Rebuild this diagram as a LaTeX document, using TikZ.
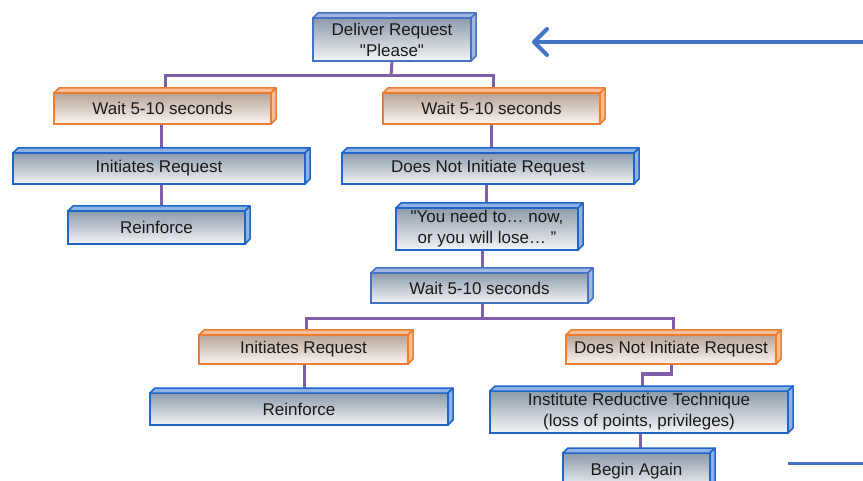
\documentclass[tikz,border=0pt]{standalone}
\usepackage{fontspec}
\setmainfont{Liberation Sans}
\usetikzlibrary{arrows.meta}
\pgfdeclarelayer{back}
\pgfdeclarelayer{bg}
\pgfsetlayers{back,bg,main}
\definecolor{lblue}{HTML}{4472C4}
\definecolor{dblue}{HTML}{1F66C8}
\definecolor{orng}{HTML}{ED7D31}
\definecolor{purp}{HTML}{7E5FA8}
\definecolor{btop}{HTML}{8C9BAA}
\definecolor{bbot}{HTML}{F4F5F7}
\definecolor{otop}{HTML}{B8A397}
\definecolor{obot}{HTML}{FBF6F2}
\definecolor{txt}{HTML}{1A1A1A}
\tikzset{
  boxbase/.style={draw=#1, line width=2.8pt, inner sep=0pt, outer sep=0pt, align=center,
    text=txt, font=\fontsize{17}{21}\selectfont},
  bluebox/.style={boxbase=#1, top color=btop, bottom color=bbot},
  orangebox/.style={boxbase=#1, top color=otop, bottom color=obot},
  bevel/.style={fill=#1!50!white, draw=#1, line width=1.5pt, line join=round},
  conn/.style={draw=purp, line width=3pt},
}
% name, x1, y1, x2, y2, style, colour, text
\newcommand\mkbox[8]{%
  \node[#6=#7, minimum width={(#4-#2)*1pt}, minimum height={(#5-#3)*1pt}]
    (#1) at ({(#2+#4)/2},{(#3+#5)/2}) {#8};
  \path[bevel=#7] (#1.north west) -- ++(5pt,5pt) -- ([shift={(5pt,5pt)}]#1.north east)
    -- (#1.north east) -- cycle;
  \path[bevel=#7] (#1.north east) -- ++(5pt,5pt) -- ([shift={(5pt,5pt)}]#1.south east)
    -- (#1.south east) -- cycle;
}
\begin{document}
\begin{tikzpicture}[x=1pt,y=-1pt]
\useasboundingbox (0,0) rectangle (863,481);
\clip (0,0) rectangle (863,481);
\begin{pgfonlayer}{back}
  \fill[white] (0,0) rectangle (863,481);
\end{pgfonlayer}

\mkbox{deliver}{313}{18}{471}{61}{bluebox}{lblue}{Deliver Request\\\textquotedbl Please\textquotedbl}
\mkbox{waitL}{54}{93}{271}{124}{orangebox}{orng}{Wait 5-10 seconds}
\mkbox{waitR}{383}{93}{600}{124}{orangebox}{orng}{Wait 5-10 seconds}
\mkbox{initL}{13}{153}{305}{184}{bluebox}{dblue}{Initiates Request}
\mkbox{notR}{342}{153}{634}{184}{bluebox}{dblue}{Does Not Initiate Request}
\mkbox{reinfL}{68}{211}{245}{244}{bluebox}{dblue}{Reinforce}
\mkbox{youneed}{396}{208}{578}{250}{bluebox}{dblue}{\textquotedbl You need to… now,\\or you will lose… ”}
\mkbox{waitB}{371}{273}{588}{303}{bluebox}{lblue}{Wait 5-10 seconds}
\mkbox{initO}{199}{335}{408}{364}{orangebox}{orng}{Initiates Request}
\mkbox{notO}{566}{335}{776}{364}{orangebox}{orng}{Does Not Initiate Request}
\mkbox{reinfB}{150}{393}{448}{425}{bluebox}{dblue}{Reinforce}
\mkbox{inst}{490}{391}{788}{433}{bluebox}{dblue}{Institute Reductive Technique\\(loss of points, privileges)}
\mkbox{begin}{563}{453}{710}{489}{bluebox}{dblue}{Begin Again}

\begin{pgfonlayer}{bg}
  \coordinate (b1) at (391,76);
  \coordinate (cA) at (161,0);
  \coordinate (cB) at (491,0);
  \coordinate (cC) at (486,0);
  \coordinate (cD) at (482,0);
  \coordinate (b2) at (482,319);
  \coordinate (cL) at (306,0);
  \coordinate (cR) at (673,0);
  \coordinate (cE) at (304,0);
  \coordinate (b3) at (671,374);
  \coordinate (cF) at (642,0);
  \coordinate (cG) at (640,0);
  \draw[conn] (deliver.south) -- (b1);
  \draw[conn] ([xshift=3pt]waitL.north) |- (b1) -| ([xshift=2pt]waitR.north);
  \draw[conn] (waitL.south -| cA) -- (initL.north -| cA);
  \draw[conn] (initL.south -| cA) -- (reinfL.north -| cA);
  \draw[conn] (waitR.south -| cB) -- (notR.north -| cB);
  \draw[conn] (notR.south -| cC) -- (youneed.north -| cC);
  \draw[conn] (youneed.south -| cD) -- (waitB.north -| cD);
  \draw[conn] (waitB.south -| cD) -- (b2);
  \draw[conn] (initO.north -| cL) |- (b2) -| (notO.north -| cR);
  \draw[conn] (initO.south -| cE) -- (reinfB.north -| cE);
  \draw[conn] (notO.south -| b3) -- (b3) -| (inst.north -| cF);
  \draw[conn] (inst.south -| cG) -- (begin.north -| cG);
\end{pgfonlayer}

\coordinate (arS) at (875,42);
\coordinate (arE) at (532,42);
\draw[lblue, line width=4pt, -{Straight Barb[length=13pt,width=26pt,round]}] (arS) -- (arE);
\coordinate (lnS) at (788,463);
\coordinate (lnE) at (875,463);
\draw[lblue, line width=3pt] (lnS) -- (lnE);
\end{tikzpicture}
\end{document}
